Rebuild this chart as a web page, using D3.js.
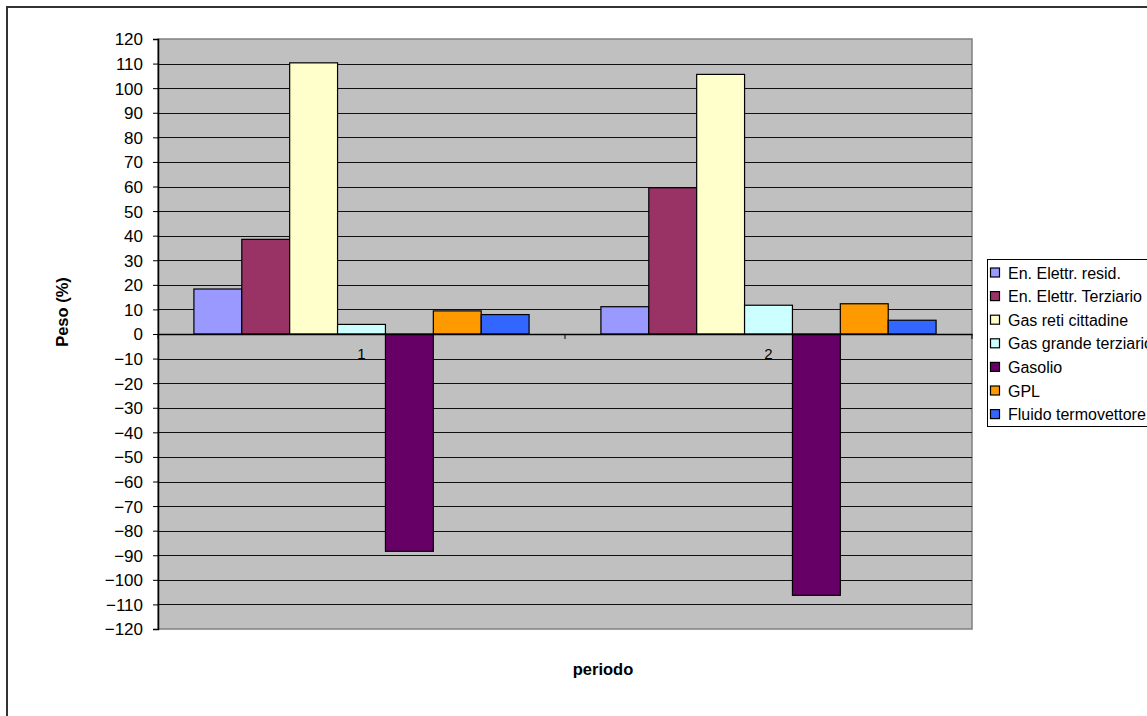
<!DOCTYPE html>
<html><head><meta charset="utf-8">
<script src="https://cdn.jsdelivr.net/npm/d3@7"></script>
<style>body{margin:0;background:#fff}svg{display:block;font-family:"Liberation Sans",Arial,sans-serif}</style>
</head><body>
<svg id="c" width="1147" height="716"></svg>
<script>
const categories = ["1", "2"];
const seriesNames = ["En. Elettr. resid.", "En. Elettr. Terziario", "Gas reti cittadine", "Gas grande terziario", "Gasolio", "GPL", "Fluido termovettore"];
const seriesColors = ["#9999ff", "#993366", "#ffffcc", "#ccffff", "#660066", "#ff9900", "#3366ff"];
const values1 = [18.3, 38.5, 110.3, 3.9, -88.4, 9.4, 7.9];
const values2 = [11.1, 59.5, 105.6, 11.7, -106.3, 12.3, 5.6];
const yTicks = d3.range(-120, 121, 10);

const FONT = "Liberation Sans, Arial, sans-serif";
const svg = d3.select("#c");
// outer chart border
svg.append("rect").attr("x",7).attr("y",7).attr("width",1200).attr("height",800)
  .attr("fill","#fff").attr("stroke","#333").attr("stroke-width",2);

const L=158, R=972, T=39, B=629;
const y = d3.scaleLinear().domain([-120,120]).range([B,T]);
const x0 = d3.scaleBand().domain(categories).range([L,R]).padding(0);
// gap width 150%: group = 7 bars + 1.5 bar gap => 0.75 bar each side
const bw = x0.bandwidth()/(7+1.5);
const xs = d3.scaleBand().domain(seriesNames).range([0.75*bw, x0.bandwidth()-0.75*bw]).padding(0);

svg.append("rect").attr("x",L).attr("y",T).attr("width",R-L).attr("height",B-T)
  .attr("fill","#c0c0c0").attr("stroke","#808080").attr("stroke-width",1.5);

// gridlines
svg.append("g").selectAll("line").data(yTicks.filter(d=>d!==0 && d!==-120 && d!==120)).join("line")
  .attr("x1",L).attr("x2",R).attr("y1",d=>Math.round(y(d))+0.5).attr("y2",d=>Math.round(y(d))+0.5)
  .attr("stroke","#111").attr("stroke-width",1);

// bars
const data = [values1, values2];
categories.forEach((c,ci)=>{
  const g = svg.append("g").attr("transform",`translate(${x0(c)},0)`);
  g.selectAll("rect").data(data[ci].map((v,i)=>({v,i}))).join("rect")
    .attr("x",d=>xs(seriesNames[d.i]))
    .attr("width",xs.bandwidth())
    .attr("y",d=>y(Math.max(0,d.v)))
    .attr("height",d=>Math.abs(y(d.v)-y(0)))
    .attr("fill",d=>seriesColors[d.i])
    .attr("stroke","#000").attr("stroke-width",1.2);
});

// y axis
const yAxis = d3.axisLeft(y).tickValues(yTicks).tickSize(5).tickPadding(10).tickFormat(d3.format("d"));
const ya = svg.append("g").attr("transform",`translate(${L},0)`).call(yAxis);
ya.select(".domain").attr("stroke","#000").attr("stroke-width",1.5);
ya.selectAll(".tick line").attr("stroke","#000");
ya.selectAll("text").attr("font-size",17).attr("fill","#000").attr("font-family",FONT).attr("dy","0.35em");

// x axis at zero
const xAxis = d3.axisBottom(x0).tickSize(0).tickPadding(14);
const xa = svg.append("g").attr("transform",`translate(0,${y(0)})`).call(xAxis);
xa.select(".domain").attr("stroke","#000").attr("stroke-width",1.5);
xa.selectAll("text").attr("font-size",15).attr("fill","#000").attr("font-family",FONT);
// category boundary ticks
svg.append("g").selectAll("line").data([L, x0("2"), R]).join("line")
  .attr("x1",d=>d).attr("x2",d=>d).attr("y1",y(0)).attr("y2",y(0)+5).attr("stroke","#000");

// axis titles
svg.append("text").attr("transform","translate(68,312) rotate(-90)").attr("text-anchor","middle")
  .attr("font-size",16.5).attr("font-weight","bold").text("Peso (%)");
svg.append("text").attr("x",603).attr("y",675).attr("text-anchor","middle")
  .attr("font-size",16.5).attr("font-weight","bold").text("periodo");

// legend
const lg = svg.append("g");
lg.append("rect").attr("x",987.5).attr("y",259.5).attr("width",200).attr("height",167)
  .attr("fill","#fff").attr("stroke","#000").attr("stroke-width",1);
const items = lg.selectAll("g.it").data(seriesNames).join("g").attr("class","it")
  .attr("transform",(d,i)=>`translate(990,${272.5+i*23.6})`);
items.append("rect").attr("x",0.5).attr("y",-4.5).attr("width",9).attr("height",9)
  .attr("fill",(d,i)=>seriesColors[i]).attr("stroke","#000").attr("stroke-width",1.2);
items.append("text").attr("x",18).attr("y",6).attr("font-size",16).text(d=>d);
</script>
</body></html>
